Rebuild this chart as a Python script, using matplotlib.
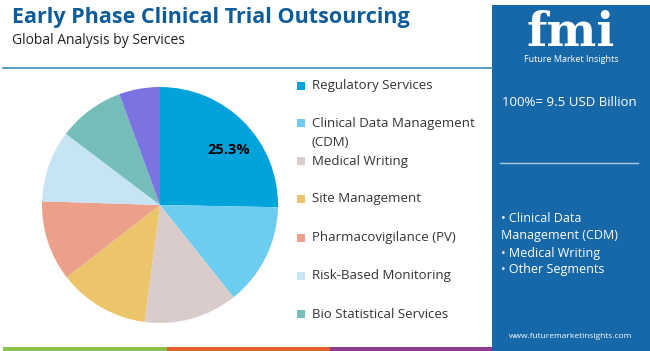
#! /usr/bin/env python3

import matplotlib.pyplot as plt
from matplotlib.patches import Rectangle
from matplotlib.lines import Line2D

plt.rcParams['font.family'] = ['Open Sans', 'DejaVu Sans']

# data
services = ['Regulatory Services', 'Clinical Data Management\n(CDM)', 'Medical Writing',
            'Site Management', 'Pharmacovigilance (PV)', 'Risk-Based Monitoring',
            'Bio Statistical Services', 'Others']
shares = [25.3, 14.0, 12.8, 12.4, 11.0, 9.8, 9.1, 5.6]
colors = ['#02a2db', '#6ccdf1', '#d9cccb', '#ecc56b', '#eca08a', '#c6e4f4', '#74bdb8', '#7c73e2']
legend_n = 7
legend_y = [86, 123, 161, 199, 238, 276, 314]

title = 'Early Phase Clinical Trial Outsourcing'
subtitle = 'Global Analysis by Services'
total_text = '100%= 9.5 USD Billion'
bullets = ['• Clinical Data', 'Management (CDM)', '• Medical Writing', '• Other Segments']
bullet_y = [219, 236, 253, 270]

W, H = 650, 351
fig = plt.figure(figsize=(W / 100, H / 100), dpi=100)


def fx(px):
    return px / W


def fy(py):
    return 1 - py / H


# header
fig.text(fx(12), fy(17), title, fontsize=15.5, fontweight='bold', color='#0d5c99', va='center')
fig.text(fx(12), fy(40), subtitle, fontsize=10, color='#222222', va='center')
fig.add_artist(Line2D([fx(3), fx(492)], [fy(68), fy(68)], color='#3b87b0', lw=1.2))

# bottom strip
for x0, x1, c in [(3, 167, '#8cc04b'), (167, 330, '#e2622f'), (330, 495, '#8e3b8f')]:
    fig.add_artist(Rectangle((fx(x0), 0), fx(x1 - x0), 4 / H, color=c, lw=0))

# pie
ax = fig.add_axes([fx(42), fy(323), fx(236), 236 / H])
wedges, _ = ax.pie(shares, colors=colors, startangle=90, counterclock=False,
                   wedgeprops=dict(linewidth=0))
ax.set_xlim(-1, 1)
ax.set_ylim(-1, 1)
ax.set_aspect('equal')
ax.text(0.58, 0.47, '25.3%', fontsize=10.5, fontweight='bold', ha='center', va='center')

# legend
for i in range(legend_n):
    y = legend_y[i]
    fig.add_artist(Rectangle((fx(297), fy(y + 4)), fx(8), 8 / H, color=colors[i], lw=0))
    lines = services[i].split('\n')
    for j, line in enumerate(lines):
        fig.text(fx(312), fy(y + j * 20), line, fontsize=9.5, color='#333333', va='center')

# right panel
fig.add_artist(Rectangle((fx(492), 0), fx(W - 492), fy(5), color='#1668a8', lw=0))
fig.text(fx(571), fy(33), 'fmi', fontsize=34, fontweight='bold', color='white',
         ha='center', va='center', family='DejaVu Serif')
fig.text(fx(571), fy(60), 'Future Market Insights', fontsize=6.5, color='white',
         ha='center', va='center')
fig.text(fx(502), fy(102), total_text, fontsize=9.5, color='white', va='center')
fig.add_artist(Line2D([fx(500), fx(638)], [fy(163), fy(163)], color='#a9cbe5', lw=1))
for t, y in zip(bullets, bullet_y):
    fig.text(fx(501), fy(y), t, fontsize=9, color='white', va='center')
fig.text(fx(571), fy(336), 'www.futuremarketinsights.com', fontsize=6, color='white',
         ha='center', va='center')

fig.savefig('out.png', dpi=100)
